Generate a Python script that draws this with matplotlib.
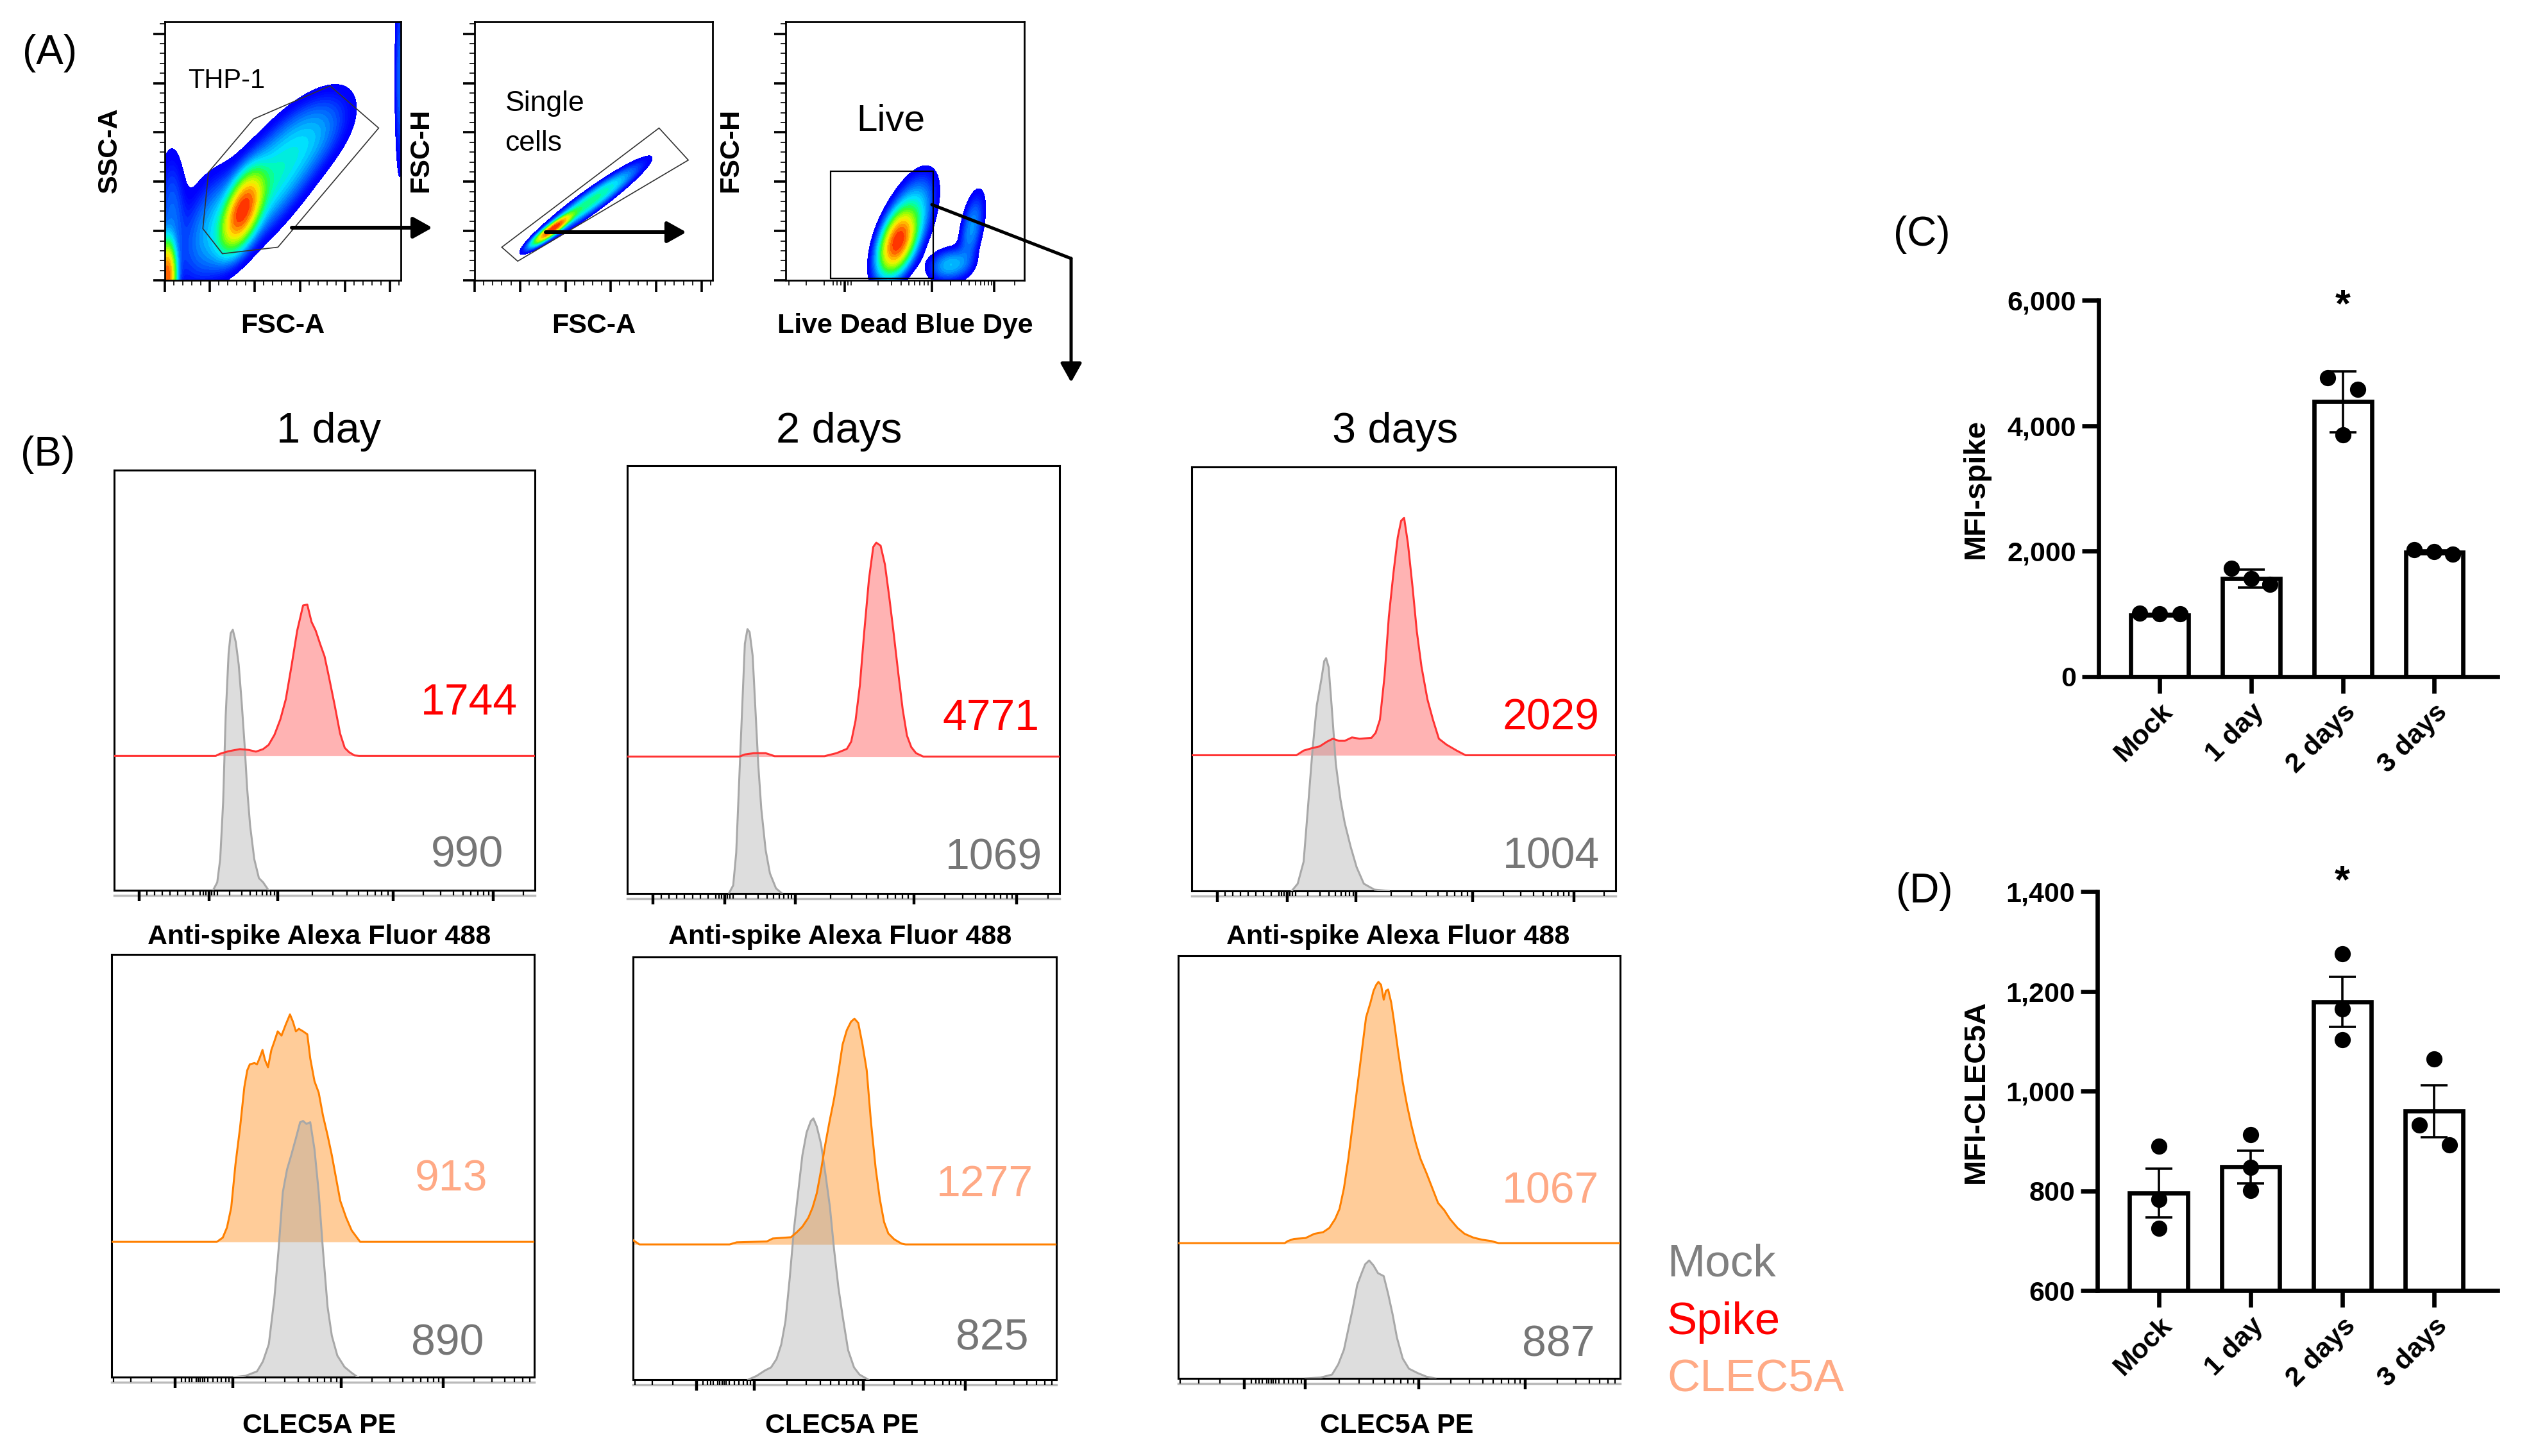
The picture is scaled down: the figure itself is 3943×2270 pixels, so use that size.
import numpy as np
import matplotlib
matplotlib.use("Agg")
import matplotlib.pyplot as plt
from matplotlib.colors import LinearSegmentedColormap, LogNorm
from matplotlib.patches import Polygon, Rectangle, FancyArrowPatch
from matplotlib.lines import Line2D

plt.rcParams['font.family'] = ['Liberation Sans', 'DejaVu Sans']

# ------------------------------------------------------------------ data
# Panel C / D (bar charts)
groups = ['Mock', '1 day', '2 days', '3 days']
spike_mean = [985, 1565, 4380, 1985]
spike_err = [12, 141, 485, 30]
spike_pts = [[1010, 1000, 1000], [1732, 1567, 1468], [4767, 4579, 3857], [2025, 1996, 1949]]
clec_mean = [795, 848, 1179, 960]
clec_err = [49, 33, 50, 52]
clec_pts = [[890, 783, 725], [913, 847, 801], [1275, 1165, 1103], [1064, 932, 892]]
spike_ticks = [0, 2000, 4000, 6000]
spike_ticklabels = ['0', '2,000', '4,000', '6,000']
clec_ticks = [600, 800, 1000, 1200, 1400]
clec_ticklabels = ['600', '800', '1,000', '1,200', '1,400']

# Panel B: MFI values printed in the histograms
days = ['1 day', '2 days', '3 days']
spike_mfi = [1744, 4771, 2029]
spike_mock_mfi = [990, 1069, 1004]
clec_mfi = [913, 1277, 1067]
clec_mock_mfi = [890, 825, 887]

# Panel B histograms (x in display fraction, y = normalised count)
d1_mock_x = [0.235, 0.245, 0.252, 0.259, 0.265, 0.272, 0.277, 0.282, 0.289, 0.296, 0.303, 0.310, 0.316, 0.323, 0.333, 0.344, 0.354, 0.367]
d1_mock_y = [0, 0.019, 0.074, 0.21, 0.414, 0.564, 0.612, 0.62, 0.591, 0.537, 0.448, 0.346, 0.243, 0.155, 0.074, 0.029, 0.019, 0]
d1_spike_x = [0, 0.2415, 0.2517, 0.272, 0.299, 0.32, 0.337, 0.354, 0.367, 0.381, 0.395, 0.408, 0.422, 0.435, 0.449, 0.459, 0.469, 0.479, 0.490, 0.5, 0.510, 0.524, 0.537, 0.548, 0.558, 0.571, 0.582, 1]
d1_spike_y = [0, 0, 0.005, 0.011, 0.016, 0.014, 0.010, 0.016, 0.026, 0.05, 0.087, 0.135, 0.217, 0.298, 0.358, 0.36, 0.319, 0.298, 0.265, 0.237, 0.19, 0.121, 0.053, 0.019, 0.009, 0.001, 0, 0]

d2_mock_x = [0.235, 0.245, 0.252, 0.259, 0.266, 0.272, 0.278, 0.283, 0.29, 0.296, 0.303, 0.310, 0.32, 0.33, 0.344, 0.358]
d2_mock_y = [0, 0.019, 0.095, 0.267, 0.439, 0.584, 0.618, 0.611, 0.556, 0.439, 0.301, 0.198, 0.102, 0.047, 0.012, 0]
d2_spike_x = [0, 0.259, 0.272, 0.293, 0.32, 0.341, 0.456, 0.484, 0.508, 0.518, 0.528, 0.538, 0.548, 0.559, 0.569, 0.576, 0.586, 0.596, 0.606, 0.616, 0.627, 0.637, 0.647, 0.657, 0.668, 0.685, 1]
d2_spike_y = [0, 0, 0.005, 0.008, 0.008, 0.001, 0.001, 0.008, 0.018, 0.035, 0.084, 0.166, 0.29, 0.414, 0.49, 0.5, 0.493, 0.449, 0.373, 0.29, 0.194, 0.111, 0.049, 0.022, 0.008, 0, 0]

d3_mock_x = [0.236, 0.25, 0.264, 0.274, 0.285, 0.295, 0.306, 0.3125, 0.317, 0.323, 0.330, 0.340, 0.351, 0.361, 0.375, 0.389, 0.406, 0.431, 0.465]
d3_mock_y = [0, 0.017, 0.069, 0.194, 0.333, 0.4375, 0.5, 0.542, 0.549, 0.528, 0.4375, 0.299, 0.215, 0.16, 0.104, 0.056, 0.017, 0.003, 0]
d3_spike_x = [0, 0.247, 0.264, 0.281, 0.302, 0.319, 0.333, 0.347, 0.361, 0.378, 0.396, 0.424, 0.434, 0.444, 0.455, 0.465, 0.476, 0.486, 0.494, 0.501, 0.510, 0.521, 0.531, 0.542, 0.556, 0.569, 0.583, 0.601, 0.625, 0.646, 1]
d3_spike_y = [0, 0, 0.011, 0.016, 0.021, 0.032, 0.039, 0.034, 0.034, 0.042, 0.039, 0.041, 0.053, 0.084, 0.188, 0.327, 0.431, 0.514, 0.553, 0.56, 0.5, 0.396, 0.292, 0.209, 0.132, 0.084, 0.039, 0.025, 0.011, 0, 0]

c1_mock_x = [0.29, 0.317, 0.344, 0.358, 0.372, 0.385, 0.395, 0.405, 0.415, 0.425, 0.436, 0.446, 0.453, 0.461, 0.470, 0.48, 0.49, 0.5, 0.511, 0.521, 0.534, 0.551, 0.568, 0.582]
c1_mock_y = [0, 0.003, 0.0135, 0.037, 0.078, 0.186, 0.301, 0.437, 0.491, 0.525, 0.565, 0.603, 0.606, 0.599, 0.603, 0.539, 0.437, 0.301, 0.166, 0.098, 0.051, 0.024, 0.01, 0]
c1_clec_x = [0, 0.249, 0.263, 0.273, 0.283, 0.293, 0.304, 0.314, 0.321, 0.327, 0.338, 0.344, 0.351, 0.357, 0.363, 0.370, 0.378, 0.385, 0.393, 0.402, 0.412, 0.422, 0.429, 0.436, 0.443, 0.453, 0.463, 0.470, 0.480, 0.490, 0.5, 0.511, 0.521, 0.531, 0.541, 0.555, 0.568, 0.578, 0.588, 1]
c1_clec_y = [0, 0, 0.010, 0.034, 0.081, 0.183, 0.271, 0.366, 0.406, 0.42, 0.423, 0.42, 0.437, 0.454, 0.43, 0.413, 0.454, 0.474, 0.498, 0.488, 0.514, 0.538, 0.521, 0.498, 0.504, 0.498, 0.491, 0.434, 0.38, 0.353, 0.299, 0.252, 0.205, 0.151, 0.097, 0.057, 0.027, 0.0135, 0, 0]

c2_mock_x = [0.272, 0.292, 0.312, 0.326, 0.339, 0.35, 0.36, 0.37, 0.38, 0.39, 0.4, 0.41, 0.42, 0.426, 0.434, 0.444, 0.454, 0.465, 0.475, 0.485, 0.495, 0.508, 0.522, 0.535, 0.556]
c2_mock_y = [0, 0.009, 0.022, 0.029, 0.049, 0.083, 0.138, 0.239, 0.355, 0.443, 0.531, 0.585, 0.612, 0.618, 0.599, 0.558, 0.49, 0.409, 0.307, 0.219, 0.151, 0.07, 0.029, 0.012, 0]
c2_clec_x = [0, 0.015, 0.228, 0.245, 0.316, 0.33, 0.373, 0.387, 0.4, 0.414, 0.424, 0.434, 0.444, 0.454, 0.464, 0.475, 0.485, 0.495, 0.505, 0.515, 0.523, 0.532, 0.542, 0.552, 0.562, 0.573, 0.583, 0.593, 0.603, 0.617, 0.634, 0.644, 1]
c2_clec_y = [0.01, 0, 0, 0.005, 0.007, 0.014, 0.017, 0.029, 0.042, 0.063, 0.087, 0.121, 0.175, 0.236, 0.29, 0.345, 0.406, 0.473, 0.507, 0.527, 0.534, 0.524, 0.473, 0.412, 0.29, 0.181, 0.107, 0.053, 0.026, 0.012, 0.002, 0, 0]

c3_mock_x = [0.288, 0.322, 0.348, 0.362, 0.375, 0.385, 0.395, 0.405, 0.415, 0.423, 0.432, 0.442, 0.452, 0.465, 0.475, 0.485, 0.495, 0.508, 0.522, 0.542, 0.562, 0.582]
c3_mock_y = [0, 0.002, 0.009, 0.033, 0.068, 0.117, 0.166, 0.221, 0.249, 0.27, 0.279, 0.267, 0.249, 0.242, 0.2, 0.152, 0.096, 0.047, 0.023, 0.0125, 0.004, 0]
c3_clec_x = [0, 0.241, 0.248, 0.262, 0.288, 0.308, 0.328, 0.342, 0.355, 0.365, 0.375, 0.385, 0.395, 0.405, 0.415, 0.425, 0.435, 0.442, 0.448, 0.453, 0.459, 0.465, 0.47, 0.475, 0.482, 0.488, 0.498, 0.508, 0.518, 0.528, 0.538, 0.548, 0.562, 0.575, 0.588, 0.602, 0.615, 0.632, 0.648, 0.668, 0.688, 0.708, 0.725, 1]
c3_clec_y = [0, 0, 0.005, 0.01, 0.012, 0.022, 0.026, 0.036, 0.057, 0.081, 0.13, 0.2, 0.283, 0.367, 0.451, 0.534, 0.569, 0.597, 0.611, 0.618, 0.611, 0.576, 0.597, 0.6, 0.569, 0.527, 0.451, 0.381, 0.325, 0.277, 0.235, 0.2, 0.165, 0.13, 0.095, 0.078, 0.057, 0.036, 0.022, 0.013, 0.008, 0.005, 0, 0]

# Panel A: gated populations (cx, cy, sx, sy, rho, weight) in display fraction
thp1_pops = [(0.33, 0.27, 0.045, 0.075, 0.55, 1.0),
             (0.42, 0.36, 0.15, 0.16, 0.80, 0.14),
             (0.62, 0.56, 0.10, 0.09, 0.50, 0.03),
             (0.20, 0.22, 0.08, 0.12, 0.3, 0.04),
             (0.01, 0.02, 0.02, 0.07, 0.0, 0.9),
             (0.03, 0.25, 0.035, 0.15, 0.0, 0.04),
             (0.995, 0.78, 0.012, 0.22, 0.0, 0.04)]
single_pops = [(0.33, 0.20, 0.042, 0.03, 0.92, 1.0),
               (0.48, 0.30, 0.11, 0.075, 0.95, 0.16)]
live_pops = [(0.47, 0.15, 0.038, 0.06, 0.45, 1.0),
             (0.50, 0.20, 0.06, 0.10, 0.60, 0.18),
             (0.69, 0.06, 0.05, 0.035, 0.20, 0.08),
             (0.78, 0.20, 0.03, 0.08, 0.50, 0.06)]
thp1_gate = [(0.161, 0.2), (0.185, 0.418), (0.376, 0.624), (0.70, 0.752), (0.906, 0.589), (0.479, 0.128), (0.244, 0.103)]
single_gate = [(0.114, 0.128), (0.775, 0.589), (0.898, 0.465), (0.181, 0.074)]
live_gate = (0.188, 0.008, 0.617, 0.4225)

# ------------------------------------------------------------------ figure
W, H = 3943, 2270
fig = plt.figure(figsize=(W / 100, H / 100), dpi=100)


def box(x0, y0, x1, y1):
    return [x0 / W, 1 - y1 / H, (x1 - x0) / W, (y1 - y0) / H]


def ftext(x, y, s, **kw):
    return fig.text(x / W, 1 - y / H, s, **kw)


def log_minors(a, b):
    return [a + (b - a) * np.log10(k) for k in range(2, 10)]


flowcmap = LinearSegmentedColormap.from_list('flow', ['#0000FF', '#0000FF', '#0018FF', '#0040FF', '#0070FF',
                                                      '#00A8FF', '#00E0FF', '#00FFB0', '#30FF30', '#A0FF00',
                                                      '#FFF000', '#FF9000', '#FF2000'])


def density(ax, pops):
    xs = np.linspace(0, 1, 500)
    X, Y = np.meshgrid(xs, xs)
    Z = np.zeros_like(X)
    for cx, cy, sx, sy, rho, w in pops:
        dx = (X - cx) / sx
        dy = (Y - cy) / sy
        Z += w * np.exp(-(dx * dx - 2 * rho * dx * dy + dy * dy) / (2 * (1 - rho * rho)))
    Z = Z / Z.max()
    levels = np.geomspace(0.008, 1.0001, 30)
    ax.contourf(X, Y, Z, levels=levels, cmap=flowcmap, norm=LogNorm(0.008, 1.0), zorder=1)


def style_dot_axes(ax, xmaj, xmin):
    ax.set_xlim(0, 1)
    ax.set_ylim(0, 1)
    for s in ax.spines.values():
        s.set_linewidth(2)
    ymaj = [v / 262144 for v in range(0, 262144, 50000)]
    ymin = [v / 262144 for v in range(0, 262144, 10000)]
    ax.set_yticks(ymaj)
    ax.set_yticks(ymin, minor=True)
    ax.set_xticks(xmaj)
    ax.set_xticks(xmin, minor=True)
    ax.set_xticklabels([])
    ax.set_yticklabels([])
    ax.tick_params(which='major', direction='out', length=13, width=2.6)
    ax.tick_params(which='minor', direction='out', length=6, width=1.2)


lin_maj = [v / 262144 for v in range(0, 262144, 50000)]
lin_min = [v / 262144 for v in range(0, 262144, 10000)]

# ---- Panel A
ax1 = fig.add_axes(box(257, 34, 625, 437))
density(ax1, thp1_pops)
ax1.add_patch(Polygon(thp1_gate, closed=True, fill=False, ec='#333333', lw=1.2, zorder=3))
ax1.text(0.097, 0.771, 'THP-1', transform=ax1.transAxes, fontsize=30, va='center', ha='left')
style_dot_axes(ax1, lin_maj, lin_min)

ax2 = fig.add_axes(box(740, 34, 1111, 437))
density(ax2, single_pops)
ax2.add_patch(Polygon(single_gate, closed=True, fill=False, ec='#333333', lw=1.2, zorder=3))
ax2.text(0.128, 0.683, 'Single', transform=ax2.transAxes, fontsize=32, va='center', ha='left')
ax2.text(0.128, 0.53, 'cells', transform=ax2.transAxes, fontsize=32, va='center', ha='left')
style_dot_axes(ax2, lin_maj, lin_min)

ax3 = fig.add_axes(box(1225, 34, 1597, 437))
density(ax3, live_pops)
gx0, gy0, gx1, gy1 = live_gate
ax3.add_patch(Rectangle((gx0, gy0), gx1 - gx0, gy1 - gy0, fill=False, ec='black', lw=1.6, zorder=3))
ax3.text(0.44, 0.616, 'Live', transform=ax3.transAxes, fontsize=42, va='center', ha='center')
ld_maj = [0.247, 0.612, 0.874]
ld_min = [0.013, 0.087, 0.16, 0.2, 0.215, 0.23, 0.26, 0.275] + log_minors(0.29, 0.612) + log_minors(0.612, 0.874) + [0.96]
style_dot_axes(ax3, ld_maj, ld_min)

ftext(171, 234, 'SSC-A', rotation=90, fontsize=31, fontweight='bold', ha='center', va='center')
ftext(656, 234, 'FSC-H', rotation=90, fontsize=31, fontweight='bold', ha='center', va='center')
ftext(1139, 234, 'FSC-H', rotation=90, fontsize=31, fontweight='bold', ha='center', va='center')
ftext(441, 508, 'FSC-A', fontsize=31, fontweight='bold', ha='center', va='center')
ftext(926, 508, 'FSC-A', fontsize=31, fontweight='bold', ha='center', va='center')
ftext(1411, 508, 'Live Dead Blue Dye', fontsize=31, fontweight='bold', ha='center', va='center')

# arrows of panel A (figure pixel coordinates)
def fp(x, y):
    return (x / W, 1 - y / H)


for (xa, ya), (xb, yb) in [((455, 355), (674, 355)), ((851, 362), (1070, 362))]:
    fig.add_artist(FancyArrowPatch(fp(xa, ya), fp(xb, yb), transform=fig.transFigure,
                                   arrowstyle='-|>,head_length=0.5,head_width=0.28', mutation_scale=36,
                                   lw=4.3, color='black', shrinkA=0, shrinkB=0))
fig.add_artist(Line2D([1453 / W, 1670 / W], [1 - 319 / H, 1 - 403 / H], transform=fig.transFigure,
                      color='black', lw=3.6, solid_capstyle='round'))
fig.add_artist(FancyArrowPatch(fp(1670, 403), fp(1670, 596), transform=fig.transFigure,
                               arrowstyle='-|>,head_length=0.5,head_width=0.28', mutation_scale=36,
                               lw=3.6, color='black', shrinkA=0, shrinkB=0))

# ---- Panel B
top_boxes = [box(178, 733, 834, 1388), box(978, 726, 1652, 1393), box(1858, 728, 2519, 1389)]
bot_boxes = [box(174, 1488, 833, 2147), box(987, 1492, 1647, 2151), box(1837, 1490, 2526, 2149)]
top_hist = [(d1_mock_x, d1_mock_y, d1_spike_x, d1_spike_y),
            (d2_mock_x, d2_mock_y, d2_spike_x, d2_spike_y),
            (d3_mock_x, d3_mock_y, d3_spike_x, d3_spike_y)]
bot_hist = [(c1_mock_x, c1_mock_y, c1_clec_x, c1_clec_y),
            (c2_mock_x, c2_mock_y, c2_clec_x, c2_clec_y),
            (c3_mock_x, c3_mock_y, c3_clec_x, c3_clec_y)]
top_lab_pos = [((0.959, 0.455), (0.925, 0.091)), ((0.954, 0.418), (0.96, 0.092)), ((0.962, 0.417), (0.962, 0.09))]
bot_lab_pos = [((0.89, 0.477), (0.88, 0.088)), ((0.945, 0.47), (0.934, 0.107)), ((0.952, 0.451), (0.942, 0.089))]

top_maj = [0.06, 0.225, 0.388, 0.663, 0.901]
top_min = (list(np.linspace(0.06, 0.205, 9)[1:]) + [0.212, 0.218, 0.232, 0.238, 0.245]
           + log_minors(0.225, 0.388) + log_minors(0.388, 0.663) + log_minors(0.663, 0.901) + [0.973])
bot_maj = [0.15, 0.287, 0.544, 0.785]
bot_min = ([0.005, 0.046, 0.094, 0.165, 0.175, 0.183, 0.19, 0.2, 0.205, 0.21, 0.215, 0.22, 0.228, 0.24, 0.25,
            0.26, 0.27, 0.278] + log_minors(0.287, 0.544) + log_minors(0.544, 0.785)
           + [v for v in log_minors(0.785, 1.026) if v < 1])

BASE = 0.32
RED_LINE, RED_FILL = '#FF3333', '#FFB3B3'
OR_LINE, OR_FILL = '#FF8000', '#FFCC99'
NUM_RED, NUM_GRAY, NUM_SALMON = '#FF0000', '#767676', '#FFA985'


def hist_panel(rect, data, line_c, fill_c, maj, mino, vals, cols, pos):
    ax = fig.add_axes(rect)
    mx, my, sx, sy = data
    sx = np.asarray(sx)
    sy = np.asarray(sy)
    ax.fill_between(sx, BASE, BASE + sy, color=fill_c, lw=0, zorder=1)
    ax.fill_between(mx, 0, my, color='#A0A0A0', alpha=0.35, lw=0, zorder=2)
    ax.plot(mx, my, color='#A8A8A8', lw=2.2, zorder=3)
    ax.plot(sx, BASE + sy, color=line_c, lw=2.2, zorder=4)
    ax.set_xlim(0, 1)
    ax.set_ylim(0, 1)
    ax.set_yticks([])
    ax.set_xticks(maj)
    ax.set_xticks(mino, minor=True)
    ax.set_xticklabels([])
    ax.tick_params(axis='x', which='major', direction='out', length=12, width=3.2)
    ax.tick_params(axis='x', which='minor', direction='out', length=6, width=1.6)
    for s in ax.spines.values():
        s.set_linewidth(2.2)
    ax.plot([0, 1], [-0.012, -0.012], transform=ax.transAxes, clip_on=False, color='#BBBBBB', lw=2.5, zorder=0)
    for v, c, (px, py) in zip(vals, cols, pos):
        ax.text(px, py - 0.036, str(v), transform=ax.transAxes, ha='right', va='baseline',
                fontsize=49, color=c)
    return ax


for i in range(3):
    hist_panel(top_boxes[i], top_hist[i], RED_LINE, RED_FILL, top_maj, top_min,
               [spike_mfi[i], spike_mock_mfi[i]], [NUM_RED, NUM_GRAY], top_lab_pos[i])
    hist_panel(bot_boxes[i], bot_hist[i], OR_LINE, OR_FILL, bot_maj, bot_min,
               [clec_mfi[i], clec_mock_mfi[i]], [NUM_SALMON, NUM_GRAY], bot_lab_pos[i])

for x, t in zip([513, 1308, 2175], days):
    ftext(x, 690, t, fontsize=48, ha='center', va='baseline')
for x in [498, 1310, 2180]:
    ftext(x, 1461, 'Anti-spike Alexa Fluor 488', fontsize=31, fontweight='bold', ha='center', va='center')
for x in [498, 1313, 2178]:
    ftext(x, 2223, 'CLEC5A PE', fontsize=31, fontweight='bold', ha='center', va='center')

ftext(2599, 1990, 'Mock', fontsize=51, color='#808080', ha='left', va='baseline')
ftext(2599, 2080, 'Spike', fontsize=51, color='#FF0000', ha='left', va='baseline')
ftext(2599, 2170, 'CLEC5A', fontsize=51, color='#FFAA85', ha='left', va='baseline')

# panel letters
for (x, y), s in zip([(78, 83), (75, 709), (2996, 366), (3000, 1390)], ['(A)', '(B)', '(C)', '(D)']):
    ftext(x, y, s, fontsize=46, ha='center', va='center')

# ---- Panel C & D


def bar_panel(rect, means, errs, pts, jitter, ylim, ticks, ticklabels, star_y, ylabel, ylab_y):
    ax = fig.add_axes(rect)
    x = np.arange(len(groups))
    ax.bar(x, np.asarray(means) - ylim[0], bottom=ylim[0], width=0.63, facecolor='white',
           edgecolor='black', linewidth=4.8, zorder=2)
    ax.errorbar(x, means, yerr=errs, fmt='none', ecolor='black', elinewidth=2.6, capsize=15,
                capthick=2.6, zorder=3)
    for i in range(len(groups)):
        ax.scatter(x[i] + np.asarray(jitter[i]), pts[i], s=330, color='black', zorder=4, clip_on=False,
                   linewidths=0)
    ax.set_xlim(-0.667, 3.69)
    ax.set_ylim(*ylim)
    for side in ['top', 'right']:
        ax.spines[side].set_visible(False)
    for side in ['left', 'bottom']:
        ax.spines[side].set_linewidth(4.8)
    ax.set_yticks(ticks)
    ax.set_yticklabels(ticklabels, fontsize=31, fontweight='bold')
    ax.set_xticks(x)
    ax.set_xticklabels(groups, fontsize=31, fontweight='bold', rotation=45, ha='right', va='top',
                       rotation_mode='anchor')
    ax.tick_params(axis='both', direction='out', length=19, width=4.8, pad=6)
    ax.text(2, star_y, '*', ha='center', va='center', fontsize=44, fontweight='bold', clip_on=False)
    ftext(3081, ylab_y, ylabel, rotation=90, fontsize=34, fontweight='bold', ha='center', va='center')
    return ax


spike_jitter = [[-0.22, 0, 0.22], [-0.22, 0, 0.2], [-0.165, 0.16, 0], [-0.22, 0, 0.2]]
clec_jitter = [[0, 0, 0], [0, 0, 0], [0, 0, 0], [0, -0.165, 0.165]]

bar_panel(box(3272, 468, 3894, 1055), spike_mean, spike_err, spike_pts, spike_jitter, (0, 6000),
          spike_ticks, spike_ticklabels, 5900, 'MFI-spike', 762)
bar_panel(box(3270, 1390, 3894, 2012), clec_mean, clec_err, clec_pts, clec_jitter, (600, 1400),
          clec_ticks, clec_ticklabels, 1418, 'MFI-CLEC5A', 1702)

fig.savefig('out.png', dpi=100)
